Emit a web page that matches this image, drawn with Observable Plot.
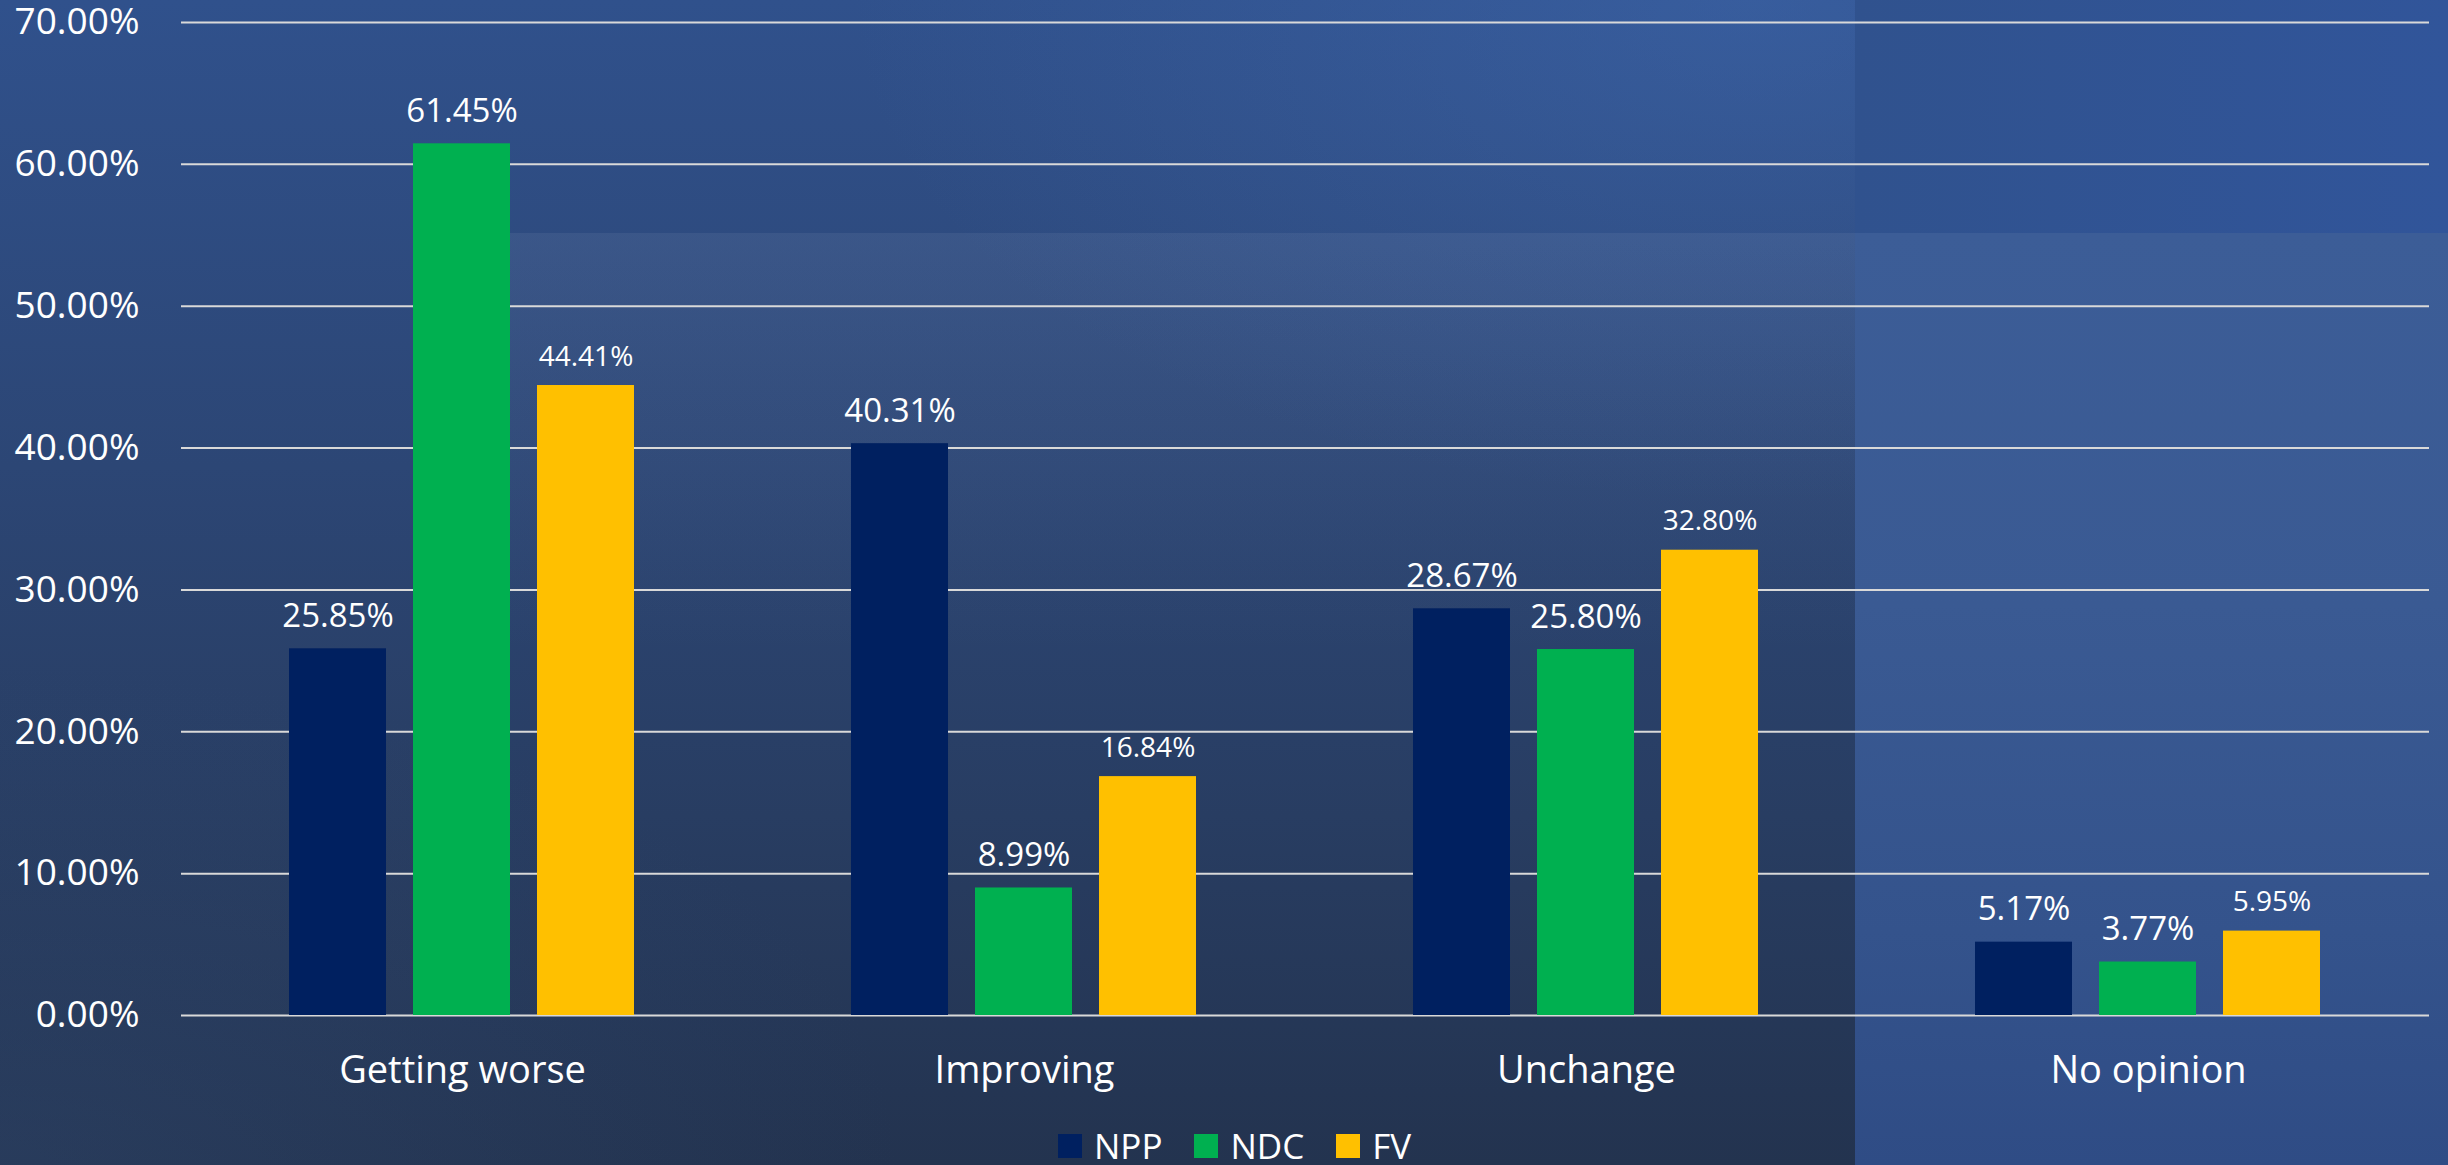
<!DOCTYPE html>
<html>
<head>
<meta charset="utf-8">
<script src="https://cdn.jsdelivr.net/npm/d3@7"></script>
<script src="https://cdn.jsdelivr.net/npm/@observablehq/plot@0.6"></script>
<style>
  html, body { margin: 0; padding: 0; }
  body { width: 2448px; height: 1165px; position: relative; overflow: hidden; font-family: "Open Sans", sans-serif; }
  .bg { position: absolute; }
  #base { left: 0; top: 0; width: 2448px; height: 1165px;
    background:
      radial-gradient(ellipse 900px 500px at 1750px 0px, rgba(70,115,190,0.35), rgba(70,115,190,0) 100%),
      radial-gradient(ellipse 900px 500px at 0px 1165px, rgba(50,75,115,0.35), rgba(50,75,115,0) 100%),
      linear-gradient(to bottom, #30518c 0%, #2c4675 40%, #283d62 70%, #23334f 100%); }
  #band { left: 510px; top: 233px; width: 1345px; height: 420px;
    background: linear-gradient(to bottom, rgba(150,165,195,0.12), rgba(150,165,195,0)); }
  #rightTop { left: 1855px; top: 0; width: 593px; height: 233px;
    background: linear-gradient(to right, #30528e, #31559a); }
  #rightBottom { left: 1855px; top: 233px; width: 593px; height: 932px;
    background: linear-gradient(to bottom, #3c5d97 0%, #3a5a93 40%, #34538c 75%, #2f4c85 100%); }
  #chart { position: absolute; left: 0; top: 0; }
  #legend { position: absolute; left: 1058px; top: 1122px; height: 48px; display: flex; align-items: center;
    font-size: 35px; line-height: 48px; color: #fff; white-space: nowrap; }
  #legend .item { display: flex; align-items: center; margin-right: 32px; }
  #legend .sw { width: 24px; height: 24px; margin-right: 12px; }
</style>
</head>
<body>
<div class="bg" id="base"></div>
<div class="bg" id="band"></div>
<div class="bg" id="rightTop"></div>
<div class="bg" id="rightBottom"></div>
<div id="chart"></div>
<div id="legend"></div>
<script>
const categories = ["Getting worse", "Improving", "Unchange", "No opinion"];
const series = ["NPP", "NDC", "FV"];
const npp = [25.85, 40.31, 28.67, 5.17];
const ndc = [61.45, 8.99, 25.80, 3.77];
const fv = [44.41, 16.84, 32.80, 5.95];
const yTicks = [0, 10, 20, 30, 40, 50, 60, 70];
const colors = ["#002060", "#00B050", "#FFC000"];

const valuesBySeries = {NPP: npp, NDC: ndc, FV: fv};
const data = categories.flatMap((c, i) => series.map(s => ({category: c, series: s, value: valuesBySeries[s][i]})));
const pct = d => d.toFixed(2) + "%";

const chart = Plot.plot({
  width: 2448,
  height: 1100,
  marginLeft: 180,
  marginRight: 18,
  marginTop: 22,
  marginBottom: 85,
  style: {background: "transparent", fontFamily: "'Open Sans', sans-serif", color: "#ffffff", overflow: "visible"},
  fx: {domain: categories, padding: 0, label: null},
  x: {domain: series, paddingInner: 0.216, paddingOuter: 0.858, axis: null},
  y: {domain: [0, 70], label: null},
  color: {domain: series, range: colors},
  marks: [
    Plot.gridY(yTicks, {stroke: "#d9d9d9", strokeOpacity: 1, strokeWidth: 2}),
    Plot.axisY(yTicks, {tickSize: 0, tickPadding: 42, fontSize: 37, tickFormat: pct, label: null}),
    Plot.axisFx({anchor: "bottom", tickSize: 0, tickPadding: 41, fontSize: 38, label: null}),
    Plot.barY(data, {fx: "category", x: "series", y: "value", fill: "series"}),
    Plot.text(data.filter(d => d.series !== "FV"), {fx: "category", x: "series", y: "value", text: d => pct(d.value),
      lineAnchor: "bottom", dy: -22, fontSize: 33, fill: "#ffffff"}),
    Plot.text(data.filter(d => d.series === "FV"), {fx: "category", x: "series", y: "value", text: d => pct(d.value),
      lineAnchor: "bottom", dy: -20, fontSize: 28, fill: "#ffffff"})
  ]
});
document.getElementById("chart").appendChild(chart);

const legend = document.getElementById("legend");
series.forEach((s, i) => {
  const item = document.createElement("div");
  item.className = "item";
  const sw = document.createElement("span");
  sw.className = "sw";
  sw.style.background = colors[i];
  const label = document.createElement("span");
  label.textContent = s;
  item.appendChild(sw);
  item.appendChild(label);
  legend.appendChild(item);
});
</script>
</body>
</html>
